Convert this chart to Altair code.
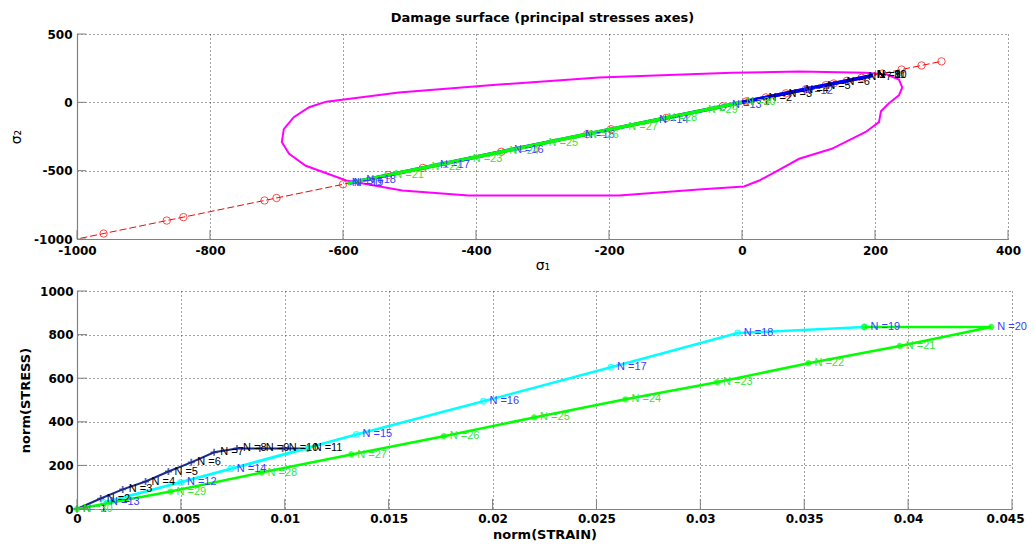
import altair as alt
import pandas as pd

# ---------------- Top panel: damage surface in principal stress space ----------------
surface_s1 = [-625, -516, -365, -215, -15, 86, 186, 218, 236, 241, 236, 221, 209, 206, 186, 135, 86, 51, 26, 3,
              -65, -185, -411, -511, -595, -656, -681, -692, -689, -674, -651, -625]
surface_s2 = [5, 72, 130, 181, 217, 225, 217, 203, 167, 109, 51, -7, -65, -145, -217, -340, -413, -507, -572, -616,
              -638, -681, -681, -645, -572, -464, -377, -290, -196, -109, -36, 5]

red_line_s1 = [-995, 300]
red_line_s2 = [-995, 300]
red_s1 = [-960, -865, -840, -718, -700, -600, -532, -480, -362, -233, -197, -114, -29, 6, 36, 66, 96, 126, 138,
          158, 180, 211, 240, 270, 300]
red_s2 = [-960, -865, -840, -718, -700, -600, -532, -480, -362, -233, -197, -114, -29, 6, 36, 66, 96, 126, 138,
          158, 180, 211, 240, 270, 300]

navy_top_s1 = [0, 34, 64, 89, 122, 151, 184, 197, 197, 197, 197]
navy_top_s2 = [0, 34, 64, 89, 122, 151, 184, 197, 197, 197, 197]
blue_top_s1 = [197, 86, -21, -131, -242, -349, -460, -571, -590]
blue_top_s2 = [197, 86, -21, -131, -242, -349, -460, -571, -590]
green_top_s1 = [-590, -593, -529, -473, -411, -356, -297, -236, -177, -118, -57, 0]
green_top_s2 = [-590, -593, -529, -473, -411, -356, -297, -236, -177, -118, -57, 0]

# ---------------- Bottom panel: norm(STRESS) vs norm(STRAIN) ----------------
navy_strain = [0, 0.00114, 0.0022, 0.0033, 0.0044, 0.0055, 0.0066, 0.0077, 0.0088, 0.0099, 0.0111]
navy_stress = [0, 48, 90, 126, 172, 214, 260, 278, 278, 278, 278]
cyan_strain = [0.0111, 0.0050, 0.0013, 0.0074, 0.01345, 0.01956, 0.0257, 0.0318, 0.0379]
cyan_stress = [278, 122, 30, 185, 342, 494, 650, 807, 835]
green_strain = [0.0379, 0.0440, 0.0396, 0.0352, 0.0308, 0.0264, 0.0220, 0.01765, 0.0132, 0.00888, 0.0045, 0.0]
green_stress = [835, 835, 748, 669, 581, 503, 420, 334, 250, 167, 80, 0]

navy_n = list(range(1, 12))
cyan_n = list(range(11, 20))
green_n = list(range(19, 31))

top_x_ticks = [-1000, -800, -600, -400, -200, 0, 200, 400]
top_y_ticks = [-1000, -500, 0, 500]
bot_x_ticks = [0, 0.005, 0.01, 0.015, 0.02, 0.025, 0.03, 0.035, 0.04, 0.045]
bot_y_ticks = [0, 200, 400, 600, 800, 1000]

C_NAVY, C_CYAN, C_GREEN, C_BLUE = "#1c2a8c", "#00ffff", "#00ff00", "#0000ff"
C_LBL_BLACK, C_LBL_BLUE, C_LBL_GREEN = "#000000", "#3c3cff", "#33e633"

W_TOP, H_TOP = 931, 205
W_BOT, H_BOT = 935, 218


def seq(xs, ys, ns=None):
    d = pd.DataFrame({"x": xs, "y": ys})
    d["i"] = list(range(len(d)))
    if ns is not None:
        d["n"] = ns
    return d


def label_color(n):
    if n <= 11:
        return C_LBL_BLACK
    if n <= 20:
        return C_LBL_BLUE
    return C_LBL_GREEN


def labels_df(parts):
    rows = []
    for xs, ys, ns, skip_first in parts:
        for k, (xv, yv, nv) in enumerate(zip(xs, ys, ns)):
            if skip_first and k == 0:
                continue
            rows.append({"x": xv, "y": yv, "t": "N =" + str(nv), "c": label_color(nv)})
    return pd.DataFrame(rows)


GRID = dict(grid=True, gridDash=[1, 3], gridColor="#444444", gridWidth=1)
COMMON = dict(ticks=False, domainColor="#808080", domainWidth=1.2, labelFont="DejaVu Sans",
              labelFontWeight="bold", labelFontSize=12, labelColor="#000000", labelFlush=False,
              labelOverlap=False, titleColor="#000000")

X_TOP = alt.X("x:Q", scale=alt.Scale(domain=[-1000, 400], nice=False, zero=False),
              axis=alt.Axis(values=top_x_ticks, labelExpr="'' + datum.value", title="σ₁",
                            titleFont="DejaVu Sans", titleFontWeight="normal", titleFontSize=14,
                            titlePadding=2, labelPadding=6, **GRID, **COMMON))
Y_TOP = alt.Y("y:Q", scale=alt.Scale(domain=[-1000, 500], nice=False, zero=False),
              axis=alt.Axis(values=top_y_ticks, labelExpr="'' + datum.value", title="σ₂",
                            titleFont="DejaVu Sans", titleFontWeight="normal", titleFontSize=14,
                            titleAngle=270, titlePadding=10, labelPadding=5, **GRID, **COMMON))
X_BOT = alt.X("x:Q", scale=alt.Scale(domain=[0, 0.045], nice=False, zero=False),
              axis=alt.Axis(values=bot_x_ticks, format="~g", title="norm(STRAIN)",
                            labelAlign={"condition": {"test": "datum.value >= 0.0449", "value": "right"},
                                        "value": "center"},
                            labelOffset={"condition": {"test": "datum.value >= 0.0449", "value": 12},
                                         "value": 0},
                            titleFont="DejaVu Sans", titleFontWeight="bold", titleFontSize=13,
                            titlePadding=4, labelPadding=4, **GRID, **COMMON))
Y_BOT = alt.Y("y:Q", scale=alt.Scale(domain=[0, 1000], nice=False, zero=False),
              axis=alt.Axis(values=bot_y_ticks, labelExpr="'' + datum.value", title="norm(STRESS)",
                            titleFont="DejaVu Sans", titleFontWeight="bold", titleFontSize=13,
                            titlePadding=7, labelPadding=4, **GRID, **COMMON))

PLUS = "M-1,0L1,0M0,-1L0,1"
STAR = "M-1,0L1,0M0,-1L0,1M-0.7,-0.7L0.7,0.7M-0.7,0.7L0.7,-0.7"


def path_line(df, X, Y, color, width, dash=None):
    kw = dict(color=color, strokeWidth=width)
    if dash:
        kw["strokeDash"] = dash
    return alt.Chart(df).mark_line(**kw).encode(x=X, y=Y, order="i:Q")


def ticks_layers(xt, yt, X, Y, H, L):
    a = alt.Chart(pd.DataFrame({"x": xt})).mark_rule(color="#808080", strokeWidth=1).encode(
        x=X, y=alt.value(H - L), y2=alt.value(H))
    b = alt.Chart(pd.DataFrame({"y": yt})).mark_rule(color="#808080", strokeWidth=1).encode(
        y=Y, x=alt.value(0), x2=alt.value(L))
    return [a, b]


# ---- top ----
surf = path_line(seq(surface_s1, surface_s2), X_TOP, Y_TOP, "#ff00ff", 2)
red_line = path_line(seq(red_line_s1, red_line_s2), X_TOP, Y_TOP, "#ff0000", 1, [7, 3])
red_pts = alt.Chart(seq(red_s1, red_s2)).mark_point(shape="circle", filled=False, color="#ff0000",
                                                    size=55, strokeWidth=1).encode(x=X_TOP, y=Y_TOP)
navy_t = path_line(seq(navy_top_s1, navy_top_s2), X_TOP, Y_TOP, C_NAVY, 3.5)
blue_t = path_line(seq(blue_top_s1, blue_top_s2), X_TOP, Y_TOP, C_BLUE, 3.5)
green_t = path_line(seq(green_top_s1, green_top_s2), X_TOP, Y_TOP, C_GREEN, 3.5)
top_lbl = labels_df([(navy_top_s1, navy_top_s2, navy_n, False),
                     (blue_top_s1, blue_top_s2, cyan_n, True),
                     (green_top_s1, green_top_s2, green_n, True)])
top_text = alt.Chart(top_lbl).mark_text(align="left", baseline="middle", dx=4, font="Liberation Sans",
                                        fontSize=11).encode(x=X_TOP, y=Y_TOP, text="t:N",
                                                            color=alt.Color("c:N", scale=None))

top = alt.layer(surf, red_line, red_pts, navy_t, blue_t, green_t, top_text,
                *ticks_layers(top_x_ticks, top_y_ticks, X_TOP, Y_TOP, H_TOP, 9)).properties(
    width=W_TOP, height=H_TOP,
    title=alt.TitleParams(text="Damage surface (principal stresses axes)", font="DejaVu Sans", fontSize=13,
                          fontWeight="bold", color="#000000", offset=3, anchor="middle"))

# ---- bottom ----
navy_b = path_line(seq(navy_strain, navy_stress), X_BOT, Y_BOT, C_NAVY, 2)
navy_bp = alt.Chart(seq(navy_strain, navy_stress)).mark_point(shape=PLUS, filled=False, color=C_NAVY,
                                                              size=49, strokeWidth=1.8).encode(x=X_BOT, y=Y_BOT)
cyan_b = path_line(seq(cyan_strain, cyan_stress), X_BOT, Y_BOT, C_CYAN, 2.5)
cyan_bp = alt.Chart(seq(cyan_strain, cyan_stress)).mark_point(shape="circle", filled=False, color=C_CYAN,
                                                              size=30, strokeWidth=1.5).encode(x=X_BOT, y=Y_BOT)
green_b = path_line(seq(green_strain, green_stress), X_BOT, Y_BOT, C_GREEN, 2.5)
green_bp = alt.Chart(seq(green_strain, green_stress)).mark_point(shape=STAR, filled=False, color=C_GREEN,
                                                                 size=40, strokeWidth=2).encode(x=X_BOT, y=Y_BOT)
bot_lbl = labels_df([(navy_strain, navy_stress, navy_n, False),
                     (cyan_strain, cyan_stress, cyan_n, True),
                     (green_strain, green_stress, green_n, True)])
bot_text = alt.Chart(bot_lbl).mark_text(align="left", baseline="middle", dx=6, font="Liberation Sans",
                                        fontSize=11).encode(x=X_BOT, y=Y_BOT, text="t:N",
                                                            color=alt.Color("c:N", scale=None))

bottom = alt.layer(navy_b, navy_bp, cyan_b, cyan_bp, green_b, green_bp, bot_text,
                   *ticks_layers(bot_x_ticks, bot_y_ticks, X_BOT, Y_BOT, H_BOT, 10)).properties(
    width=W_BOT, height=H_BOT)

chart = alt.vconcat(top, bottom, spacing=52, bounds="flush").resolve_scale(
    x="independent", y="independent").properties(
    padding={"left": 1, "top": 4, "right": 0, "bottom": 0}, background="white").configure_view(stroke=None)

chart.save("out.html", embed_options={"renderer": "svg", "actions": False})
